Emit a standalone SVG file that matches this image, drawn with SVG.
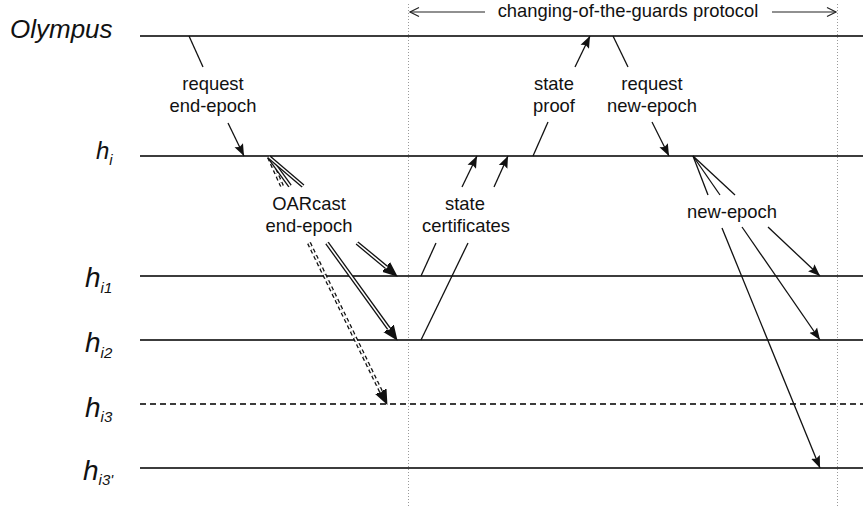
<svg xmlns="http://www.w3.org/2000/svg" width="863" height="507" viewBox="0 0 863 507">
<style>
  .lbl { font-family: "Liberation Sans", Arial, sans-serif; font-size: 18.4px; fill: #111; text-anchor: middle; }
  .nm { font-family: "Liberation Sans", Arial, sans-serif; font-style: italic; fill: #111; }
  .life { stroke: #3c3c3c; stroke-width: 1.8; fill: none; }
  .dash { stroke-dasharray: 6 4; }
  .guide { stroke: #9a9a9a; stroke-width: 1; stroke-dasharray: 1 2; fill: none; }
  .c { stroke: #111; stroke-width: 1.3; fill: none; }
  .dblo { stroke: #111; stroke-width: 4.2; fill: none; }
  .dbli { stroke: #fff; stroke-width: 1.6; fill: none; }
  .dd { stroke-dasharray: 4 3; }
</style>
<defs>
  <marker id="ah" markerUnits="userSpaceOnUse" markerWidth="13" markerHeight="11" viewBox="0 0 13 11" refX="12" refY="5.5" orient="auto">
    <path d="M0,0.8 L12,5.5 L0,10.2 L2,5.5 Z" fill="#111"/>
  </marker>
  <marker id="ahd" markerUnits="userSpaceOnUse" markerWidth="17" markerHeight="16" viewBox="0 0 17 16" refX="0" refY="8" orient="auto">
    <path d="M-3,0.5 L15,8 L-3,15.5 L1,8 Z" fill="#111"/>
  </marker>
  <marker id="open" markerUnits="userSpaceOnUse" markerWidth="12" markerHeight="12" viewBox="0 0 12 12" refX="10" refY="6" orient="auto">
    <path d="M1,1.5 L10,6 L1,10.5" fill="none" stroke="#222" stroke-width="1.2"/>
  </marker>
</defs>

<g id="guides">
  <line class="guide" x1="408.5" y1="4" x2="408.5" y2="507"/>
  <line class="guide" x1="837.5" y1="4" x2="837.5" y2="507"/>
  <line x1="485" y1="12" x2="410" y2="12" stroke="#222" stroke-width="1.2" marker-end="url(#open)"/>
  <line x1="772" y1="12" x2="836" y2="12" stroke="#222" stroke-width="1.2" marker-end="url(#open)"/>
  <text class="lbl" x="628" y="17">changing-of-the-guards protocol</text>
</g>

<g id="olympus">
  <text class="nm" x="10" y="38" font-size="26">Olympus</text>
  <line class="life" x1="140" y1="36" x2="863" y2="36"/>
</g>
<g id="hi">
  <text class="nm" x="96" y="159" font-size="24">h<tspan font-size="15" dy="6">i</tspan></text>
  <line class="life" x1="140" y1="156" x2="863" y2="156"/>
</g>
<g id="hi1">
  <text class="nm" x="85" y="287" font-size="28">h<tspan font-size="15" dy="6">i1</tspan></text>
  <line class="life" x1="140" y1="276" x2="863" y2="276"/>
</g>
<g id="hi2">
  <text class="nm" x="85" y="352" font-size="28">h<tspan font-size="15" dy="6">i2</tspan></text>
  <line class="life" x1="140" y1="340" x2="863" y2="340"/>
</g>
<g id="hi3">
  <text class="nm" x="85" y="417" font-size="28">h<tspan font-size="15" dy="5">i3</tspan></text>
  <line class="life dash" x1="140" y1="404" x2="863" y2="404"/>
</g>
<g id="hi3p">
  <text class="nm" x="83" y="480" font-size="28">h<tspan font-size="15" dy="5">i3'</tspan></text>
  <line class="life" x1="140" y1="468" x2="863" y2="468"/>
</g>

<g id="connectors">
  <!-- request end-epoch -->
  <line class="c" x1="189" y1="36" x2="203" y2="67"/>
  <line class="c" x1="228" y1="123" x2="244" y2="156" marker-end="url(#ah)"/>
  <text class="lbl" x="213" y="90">request</text>
  <text class="lbl" x="213" y="112">end-epoch</text>

  <!-- OARcast end-epoch -->
  <line class="dblo dd" x1="269" y1="157" x2="282" y2="186"/>
  <line class="dbli dd" x1="269" y1="157" x2="282" y2="186"/>
  <line class="dblo" x1="269" y1="157" x2="290" y2="186"/>
  <line class="dbli" x1="269" y1="157" x2="290" y2="186"/>
  <line class="dblo" x1="269" y1="157" x2="303" y2="186"/>
  <line class="dbli" x1="269" y1="157" x2="303" y2="186"/>
  <text class="lbl" x="309" y="210">OARcast</text>
  <text class="lbl" x="309" y="232">end-epoch</text>
  <line class="dblo" x1="357" y1="243" x2="386.2" y2="267.1" marker-end="url(#ahd)"/>
  <line class="dbli" x1="357" y1="243" x2="387" y2="267.8"/>
  <line class="dblo" x1="327" y1="243" x2="388.8" y2="328.6" marker-end="url(#ahd)"/>
  <line class="dbli" x1="327" y1="243" x2="389.4" y2="329.4"/>
  <line class="dblo dd" x1="309" y1="243" x2="380.9" y2="391.4" marker-end="url(#ahd)"/>
  <line class="dbli dd" x1="309" y1="243" x2="381.3" y2="392.2"/>

  <!-- state certificates -->
  <line class="c" x1="421" y1="276" x2="436" y2="243"/>
  <line class="c" x1="462" y1="187" x2="477" y2="156" marker-end="url(#ah)"/>
  <line class="c" x1="421" y1="340" x2="468" y2="243"/>
  <line class="c" x1="494" y1="187" x2="508" y2="156" marker-end="url(#ah)"/>
  <text class="lbl" x="465" y="210">state</text>
  <text class="lbl" x="466" y="232">certificates</text>

  <!-- state proof -->
  <line class="c" x1="533" y1="156" x2="548" y2="122"/>
  <line class="c" x1="575" y1="67" x2="590" y2="36" marker-end="url(#ah)"/>
  <text class="lbl" x="554" y="90">state</text>
  <text class="lbl" x="554" y="112">proof</text>

  <!-- request new-epoch -->
  <line class="c" x1="613" y1="36" x2="628" y2="67"/>
  <line class="c" x1="652" y1="122" x2="669" y2="156" marker-end="url(#ah)"/>
  <text class="lbl" x="652" y="90">request</text>
  <text class="lbl" x="652" y="112">new-epoch</text>

  <!-- new-epoch -->
  <line class="c" x1="693" y1="156" x2="708" y2="195"/>
  <line class="c" x1="693" y1="156" x2="720" y2="195"/>
  <line class="c" x1="693" y1="156" x2="735" y2="195"/>
  <text class="lbl" x="732" y="218">new-epoch</text>
  <line class="c" x1="768" y1="227" x2="820" y2="276" marker-end="url(#ah)"/>
  <line class="c" x1="742" y1="227" x2="820" y2="340" marker-end="url(#ah)"/>
  <line class="c" x1="722" y1="228" x2="820" y2="468" marker-end="url(#ah)"/>
</g>
</svg>
